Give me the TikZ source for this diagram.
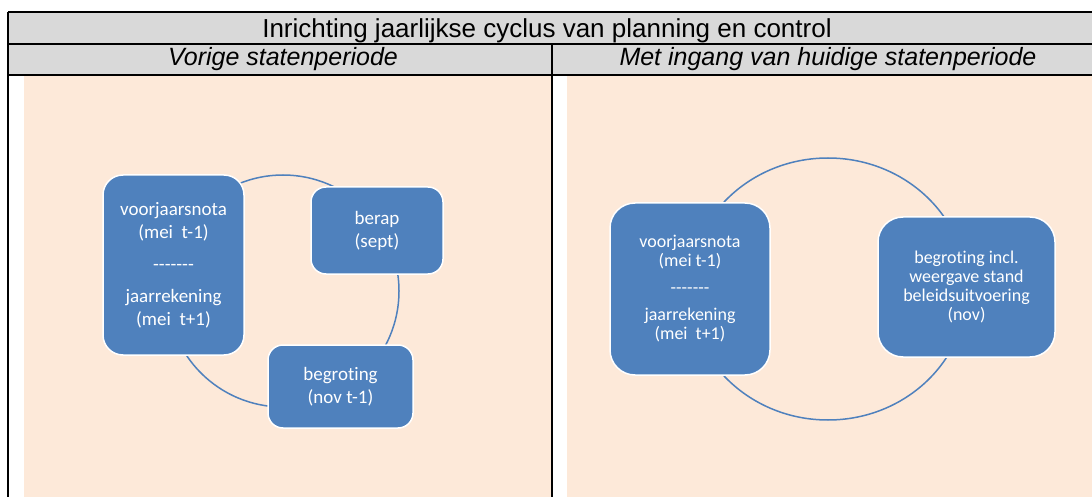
\documentclass[tikz,border=0pt]{standalone}
\usepackage{fontspec}
\setmainfont{Liberation Sans}
\newfontfamily\boxfont[Ligatures=NoCommon]{Carlito}
\definecolor{hdrgray}{HTML}{D9D9D9}
\definecolor{peach}{HTML}{FDE9D9}
\definecolor{sablue}{HTML}{4F81BD}
\begin{document}
\begin{tikzpicture}[x=1pt,y=-1pt,
  gridline/.style={line width=1.6pt,black},
  titletext/.style={anchor=base,inner sep=0pt,font=\fontsize{26}{30}\selectfont},
  hdrtext/.style={anchor=base,inner sep=0pt,font=\fontsize{25}{29}\selectfont\itshape},
  cycline/.style={draw=sablue,line width=1.5pt},
  bluebox/.style={draw=white,line width=1.5pt,fill=sablue,text=white,align=center,inner sep=0pt},
  bigtext/.style={font=\boxfont\fontsize{19}{23}\selectfont},
  smalltext/.style={font=\boxfont\fontsize{18}{19}\selectfont}]
\useasboundingbox (0,0) rectangle (1092,497);
\fill[white] (0,0) rectangle (1092,497);
% table
\fill[hdrgray] (8,12) rectangle (1092,75);
\fill[peach] (24,76) rectangle (551,497);
\fill[peach] (567,76) rectangle (1092,497);
\draw[gridline] (8,12) -- (1092,12);
\draw[gridline] (8,44) -- (1092,44);
\draw[gridline] (8,75) -- (1092,75);
\draw[gridline] (8,12) -- (8,497);
\draw[gridline] (552,44) -- (552,497);
\node[titletext] (title) at (547,38) {Inrichting jaarlijkse cyclus van planning en control};
\node[hdrtext] (hleft) at (283,66) {Vorige statenperiode};
\node[hdrtext] (hright) at (828,66) {Met ingang van huidige statenperiode};
% left cycle
\draw[cycline] (283,291) circle [radius=116pt];
\node[bluebox,bigtext,rounded corners=20pt,minimum width=141pt,minimum height=180pt] (vjnL) at (173.5,265)
  {voorjaarsnota\\(mei\ \ t-1)\\[9pt]-{}-{}-{}-{}-{}-{}-\\[9pt]jaarrekening\\(mei\ \ t+1)};
\node[bluebox,bigtext,rounded corners=15pt,minimum width=132pt,minimum height=87pt] (berap) at (377,230.5)
  {berap\\(sept)};
\node[bluebox,bigtext,rounded corners=15pt,minimum width=145pt,minimum height=83pt] (begrL) at (340.5,386.5)
  {begroting\\(nov t-1)};
% right cycle
\draw[cycline] (828,289) ellipse [x radius=139pt,y radius=131pt];
\node[bluebox,smalltext,rounded corners=25pt,minimum width=160pt,minimum height=172pt] (vjnR) at (690,289)
  {voorjaarsnota\\(mei t-1)\\[8pt]-{}-{}-{}-{}-{}-{}-\\[8pt]jaarrekening\\(mei\ \ t+1)};
\node[bluebox,smalltext,rounded corners=25pt,minimum width=177pt,minimum height=140pt] (begrR) at (966.5,287)
  {begroting incl.\\weergave stand\\beleidsuitvoering\\(nov)};
\end{tikzpicture}
\end{document}
